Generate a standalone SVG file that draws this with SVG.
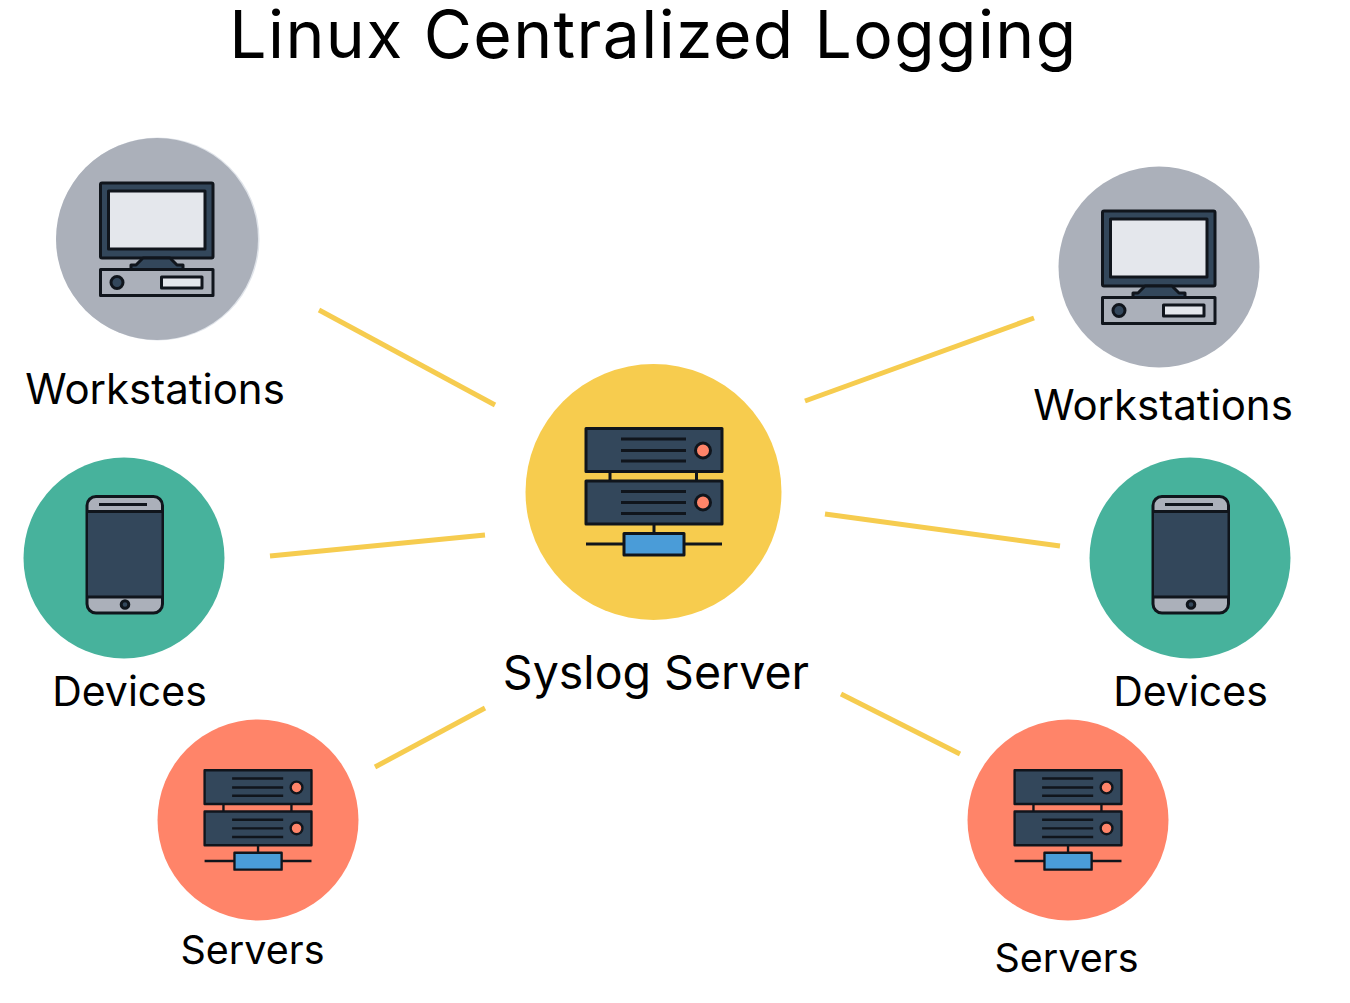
<svg xmlns="http://www.w3.org/2000/svg" xmlns:xlink="http://www.w3.org/1999/xlink" width="1350" height="1003" viewBox="0 0 1350 1003">
<style>
text{font-family:"Inter","Noto Sans",sans-serif;fill:#000}
.lbl{font-size:40px;text-anchor:middle}
.ws{font-size:42px}
.dv{font-size:41px}
.sv{font-size:39.500px}
.k{stroke:#10151c;stroke-width:3;stroke-linejoin:round}
.t{stroke:#10151c;stroke-width:3;fill:none}
.conn{stroke:#f6cc4f;stroke-width:5;fill:none}
.navy{fill:#33475b}
</style>
<defs>
<g id="srv">
<rect class="k navy" x="586" y="428.500" width="136" height="43"/>
<rect class="k navy" x="586" y="481" width="136" height="43"/>
<path class="t" d="M621 439H686M621 450.500H686M621 461H686M621 491.500H686M621 502.500H686M621 513.500H686M610 471.500V481M696.500 471.500V481M654 524V533.500M586 544H624M684 544H722"/>
<circle class="k" cx="703" cy="450.500" r="7.500" fill="#ff8469"/>
<circle class="k" cx="703" cy="502.500" r="7.500" fill="#ff8469"/>
<rect class="k" x="624" y="533.500" width="60" height="21.500" fill="#4a9cd8"/>
</g>
<g id="pc">
<rect class="k navy" x="100.500" y="183" width="112.500" height="75" rx="1.500"/>
<rect class="k" x="108.500" y="191" width="96.500" height="58" fill="#e4e7ec" stroke-width="2"/>
<path class="k navy" d="M143 258L136 265H131V269.500H183V265H177L170 258Z" stroke-width="2.500"/>
<rect class="k" x="100.500" y="269.500" width="112.500" height="26" fill="#abb0ba" stroke-width="2.500"/>
<circle class="k navy" cx="117" cy="282.500" r="6"/>
<rect class="k" x="161.500" y="277" width="40.500" height="11" fill="#e4e7ec" stroke-width="2.500"/>
</g>
<g id="ph">
<rect class="k" x="87" y="496.500" width="75.500" height="116.500" rx="9" fill="#abb0ba"/>
<rect class="navy" x="88" y="512" width="73.500" height="85"/>
<path class="t" d="M87 511.500H162.500M87 597H162.500M99 504.500H147"/>
<circle class="k navy" cx="125" cy="604.500" r="3.800"/>
</g>
</defs>
<text id="title" x="653.500" y="58" text-anchor="middle" style="font-size:66px;letter-spacing:1.400px">Linux Centralized Logging</text>
<g id="connectors">
<line class="conn" x1="319" y1="310" x2="495" y2="405"/>
<line class="conn" x1="270" y1="556" x2="485" y2="535"/>
<line class="conn" x1="375" y1="767" x2="485" y2="708"/>
<line class="conn" x1="805" y1="401" x2="1034" y2="318"/>
<line class="conn" x1="825" y1="514" x2="1060" y2="546"/>
<line class="conn" x1="841" y1="694" x2="960" y2="754"/>
</g>
<g id="node-syslog">
<circle cx="653.500" cy="492" r="128" fill="#f7cc4e"/>
<use href="#srv"/>
<text x="656" y="689" text-anchor="middle" style="font-size:46.500px">Syslog Server</text>
</g>
<g id="node-workstations-left">
<circle cx="158" cy="239" r="101.500" fill="#e0e4ea"/>
<circle cx="157" cy="239" r="101" fill="#abb0ba"/>
<use href="#pc"/>
<text class="lbl ws" x="155" y="404">Workstations</text>
</g>
<g id="node-workstations-right">
<circle cx="1159" cy="267" r="100.500" fill="#abb0ba"/>
<use href="#pc" transform="translate(1002 28)"/>
<text class="lbl ws" x="1163" y="420">Workstations</text>
</g>
<g id="node-devices-left">
<circle cx="124" cy="558" r="100.500" fill="#47b29c"/>
<use href="#ph"/>
<text class="lbl dv" x="129.500" y="705.500">Devices</text>
</g>
<g id="node-devices-right">
<circle cx="1190" cy="558" r="100.500" fill="#47b29c"/>
<use href="#ph" transform="translate(1066 0)"/>
<text class="lbl dv" x="1190.500" y="705.500">Devices</text>
</g>
<g id="node-servers-left">
<circle cx="258" cy="820" r="100.500" fill="#ff8469"/>
<use href="#srv" transform="translate(-256 433.400) scale(.786)"/>
<text class="lbl sv" x="252.500" y="963.500">Servers</text>
</g>
<g id="node-servers-right">
<circle cx="1068" cy="820" r="100.500" fill="#ff8469"/>
<use href="#srv" transform="translate(554 433.400) scale(.786)"/>
<text class="lbl sv" x="1066.500" y="971.500">Servers</text>
</g>
</svg>
